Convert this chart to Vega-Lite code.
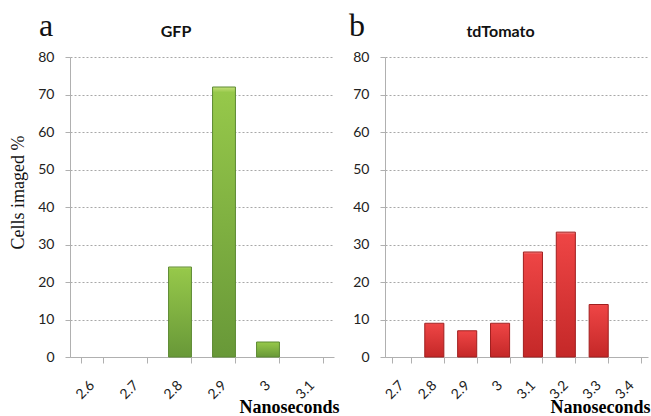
{
  "$schema": "https://vega.github.io/schema/vega-lite/v6.json",
  "background": "white",
  "padding": {"left": 9, "top": 10, "right": 3, "bottom": 2},
  "spacing": 10,
  "datasets": {
    "gfp": [
      {"ns": "2.6", "pct": 0},
      {"ns": "2.7", "pct": 0},
      {"ns": "2.8", "pct": 24},
      {"ns": "2.9", "pct": 72},
      {"ns": "3", "pct": 4},
      {"ns": "3.1", "pct": 0}
    ],
    "td": [
      {"ns": "2.7", "pct": 0},
      {"ns": "2.8", "pct": 9},
      {"ns": "2.9", "pct": 7},
      {"ns": "3", "pct": 9},
      {"ns": "3.1", "pct": 28},
      {"ns": "3.2", "pct": 33.3},
      {"ns": "3.3", "pct": 14},
      {"ns": "3.4", "pct": 0}
    ]
  },
  "config": {
    "view": {"stroke": null},
    "axis": {
      "labelFont": "Lato",
      "labelFontSize": 14,
      "labelColor": "#222",
      "domainColor": "#b0b0b0",
      "tickColor": "#b0b0b0",
      "gridColor": "#a8a8a8",
      "gridDash": [2, 2]
    },
    "title": {"font": "Lato", "fontWeight": "bold", "fontSize": 16, "color": "#111"}
  },
  "hconcat": [
    {
      "title": {"text": "a", "font": "Liberation Serif", "fontWeight": "normal", "fontSize": 32, "anchor": "start", "frame": "group", "dx": -31, "offset": -19},
      "vconcat": [
        {
          "title": {"text": "GFP", "anchor": "middle", "dx": -26, "offset": 10},
          "width": 264,
          "height": 300,
          "data": {"name": "gfp"},
          "transform": [{"filter": "datum.pct > 0"}],
          "mark": {
            "type": "bar",
            "stroke": "#5d8a33",
            "strokeWidth": 1,
            "color": {
              "gradient": "linear", "x1": 0, "y1": 0, "x2": 0, "y2": 1,
              "stops": [
                {"offset": 0, "color": "#c6e07a"},
                {"offset": 0.02, "color": "#96c84a"},
                {"offset": 1, "color": "#689838"}
              ]
            }
          },
          "encoding": {
            "x": {
              "field": "ns", "type": "ordinal", "sort": null,
              "scale": {"domain": ["2.6", "2.7", "2.8", "2.9", "3", "3.1"], "paddingInner": 0.48, "paddingOuter": 0.24},
              "axis": {
                "title": "Nanoseconds", "titleFont": "Liberation Serif", "titleFontWeight": "bold", "titleFontSize": 18, "titleColor": "#000",
                "titleAlign": "right", "titleAnchor": "end", "titleX": 269, "titleY": 55, "titleBaseline": "alphabetic",
                "labelAngle": -45, "labelFontSize": 14, "labelPadding": 15, "labelOffset": -5, "tickBand": "extent", "tickSize": 6, "grid": false
              }
            },
            "y": {
              "field": "pct", "type": "quantitative",
              "scale": {"domain": [0, 80], "nice": false},
              "axis": {
                "values": [0, 10, 20, 30, 40, 50, 60, 70, 80],
                "title": "Cells imaged %", "titleFont": "Liberation Serif", "titleFontWeight": "normal", "titleFontSize": 18, "titleColor": "#111",
                "titlePadding": 10, "titleY": 135,
                "tickSize": 5, "labelPadding": 11, "grid": true
              }
            }
          }
        }
      ]
    },
    {
      "title": {"text": "b", "font": "Liberation Serif", "fontWeight": "normal", "fontSize": 32, "anchor": "start", "frame": "group", "dx": -36, "offset": -19},
      "vconcat": [
        {
          "title": {"text": "tdTomato", "anchor": "middle", "dx": -16, "offset": 10},
          "width": 263,
          "height": 300,
          "data": {"name": "td"},
          "transform": [{"filter": "datum.pct > 0"}],
          "mark": {
            "type": "bar",
            "stroke": "#a01e1e",
            "strokeWidth": 1,
            "color": {
              "gradient": "linear", "x1": 0, "y1": 0, "x2": 0, "y2": 1,
              "stops": [
                {"offset": 0, "color": "#f58a8a"},
                {"offset": 0.02, "color": "#ee4545"},
                {"offset": 1, "color": "#c42828"}
              ]
            }
          },
          "encoding": {
            "x": {
              "field": "ns", "type": "ordinal", "sort": null,
              "scale": {"domain": ["2.7", "2.8", "2.9", "3", "3.1", "3.2", "3.3", "3.4"], "paddingInner": 0.42, "paddingOuter": 0.21},
              "axis": {
                "title": "Nanoseconds", "titleFont": "Liberation Serif", "titleFontWeight": "bold", "titleFontSize": 18, "titleColor": "#000",
                "titleAlign": "right", "titleAnchor": "end", "titleX": 265, "titleY": 55, "titleBaseline": "alphabetic",
                "labelAngle": -45, "labelFontSize": 14, "labelPadding": 15, "labelOffset": -5, "tickBand": "extent", "tickSize": 6, "grid": false
              }
            },
            "y": {
              "field": "pct", "type": "quantitative",
              "scale": {"domain": [0, 80], "nice": false},
              "axis": {
                "values": [0, 10, 20, 30, 40, 50, 60, 70, 80],
                "title": null,
                "tickSize": 5, "labelPadding": 11, "grid": true
              }
            }
          }
        }
      ]
    }
  ]
}
